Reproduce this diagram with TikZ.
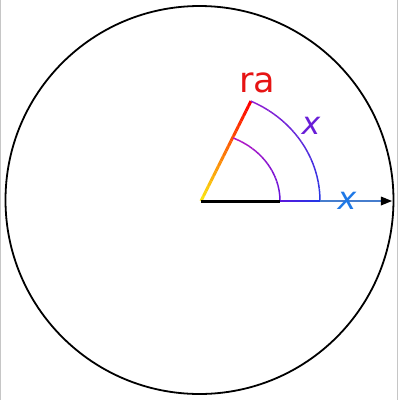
\documentclass[tikz,border=0pt]{standalone}
\usepackage{fontspec}
\setmainfont{DejaVu Sans}
\definecolor{rayred}{RGB}{230,20,20}
\definecolor{rayyellow}{RGB}{250,240,20}
\definecolor{arcmagenta}{RGB}{180,20,195}
\definecolor{arcpurple}{RGB}{145,30,210}
\definecolor{arcviolet}{RGB}{95,20,220}
\definecolor{arcblue}{RGB}{35,55,230}
\definecolor{axisblue}{RGB}{70,125,205}
\definecolor{labelblue}{RGB}{30,120,230}
\definecolor{labelpurple}{RGB}{105,30,215}
\begin{document}
\begin{tikzpicture}[x=0.1mm,y=0.1mm]
\tikzstyle{every node}+=[inner sep=0pt]
\useasboundingbox (-201,-199) rectangle (199,201);
\coordinate (O) at (0,0);
\coordinate (T) at (50,100);
\draw [gray!45, line width=0.15mm] (-200.3,-199) -- (-200.3,201);
\draw [gray!45, line width=0.15mm] (196.7,-199) -- (196.7,201);
\draw [black, line width=0.18mm] (-1.5,1) circle (194);
% ray from O to T, yellow to red
\foreach \i in {1,...,20} {
  \pgfmathtruncatemacro{\p}{5*\i}
  \draw [red!\p!rayyellow, line width=0.3mm] ({2.5*(\i-1)},{5*(\i-1)}) -- ({2.5*\i},{5*\i});
}
% outer arc, blue at the axis to purple at T
\foreach \i in {1,...,20} {
  \pgfmathtruncatemacro{\p}{5*\i}
  \draw [arcpurple!\p!arcblue, line width=0.15mm] plot [domain={3.26*(\i-1)}:{3.26*\i}, samples=3] ({119*cos(\x)},{110*sin(\x)});
}
% inner arc, violet at the axis to magenta at the ray
\foreach \i in {1,...,20} {
  \pgfmathtruncatemacro{\p}{5*\i}
  \draw [arcmagenta!\p!arcviolet, line width=0.15mm] plot [domain={3.3*(\i-1)}:{3.3*\i}, samples=3] ({79*cos(\x)},{69*sin(\x)});
}
\draw [black, line width=0.3mm] (O) -- (79,0);
\foreach \i in {1,...,10} {
  \pgfmathtruncatemacro{\p}{10*\i}
  \draw [arcblue!\p!arcviolet, line width=0.2mm] ({79+4*(\i-1)},0) -- ({79+4*\i},0);
}
\draw [axisblue, line width=0.13mm] (119,0) -- (181,0);
\fill [black] (191,0) -- (180,4.5) -- (180,-4.5) -- cycle;
\draw (56,118) node [text=rayred] {ra};
\draw (110,75) node [text=labelpurple, font=\fontsize{9}{10}\selectfont\itshape] {x};
\draw (146,0.5) node [text=labelblue, font=\fontsize{9}{10}\selectfont\itshape] {x};
\end{tikzpicture}
\end{document}
